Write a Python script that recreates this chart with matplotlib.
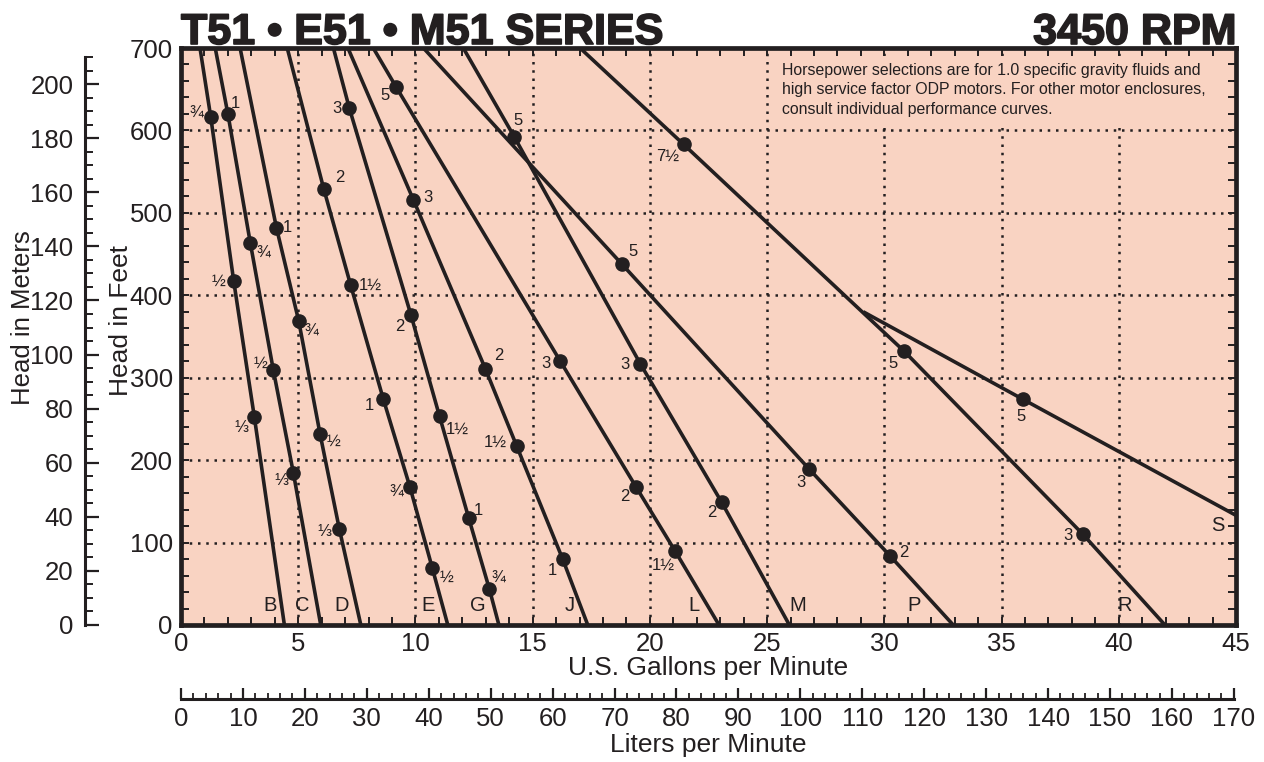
import matplotlib
matplotlib.use('Agg')
import matplotlib.pyplot as plt
from matplotlib.ticker import MultipleLocator
import matplotlib.patheffects as pe

plt.rcParams['font.family'] = ['Liberation Sans', 'DejaVu Sans']

# ---------------- data (gpm, feet of head, horsepower label at dot) ----------------
B_gpm = [0.81, 1.27, 2.25, 3.13, 4.41]
B_ft = [700, 616, 417, 252, 0]
B_hp = ['', '¾', '½', '⅓', '']

C_gpm = [1.46, 2.00, 2.96, 3.94, 4.79, 5.96]
C_ft = [700, 620, 463, 309, 185, 0]
C_hp = ['', '1', '¾', '½', '⅓', '']

D_gpm = [2.52, 4.07, 5.02, 5.93, 6.75, 7.67]
D_ft = [700, 482, 369, 232, 117, 0]
D_hp = ['', '1', '¾', '½', '⅓', '']

E_gpm = [4.53, 6.09, 7.24, 8.63, 9.77, 10.72, 11.38]
E_ft = [700, 529, 412, 274, 167, 69, 0]
E_hp = ['', '2', '1½', '1', '¾', '½', '']

G_gpm = [6.50, 7.18, 9.81, 11.03, 12.27, 13.15, 13.56]
G_ft = [700, 627, 376, 253, 130, 44, 0]
G_hp = ['', '3', '2', '1½', '1', '¾', '']

J_gpm = [7.12, 9.91, 12.98, 14.32, 16.28, 17.35]
J_ft = [700, 516, 311, 217, 80, 0]
J_hp = ['', '3', '2', '1½', '1', '']

L_gpm = [8.20, 9.17, 16.18, 19.42, 21.07, 22.95]
L_ft = [700, 653, 320, 167, 90, 0]
L_hp = ['', '5', '3', '2', '1½', '']

M_gpm = [12.04, 14.22, 19.59, 23.06, 25.95]
M_ft = [700, 592, 317, 149, 0]
M_hp = ['', '5', '3', '2', '']

P_gpm = [10.34, 18.80, 26.80, 30.24, 32.94]
P_ft = [700, 438, 189, 84, 0]
P_hp = ['', '5', '3', '2', '']

R_gpm = [17.02, 21.44, 30.85, 38.47, 41.97]
R_ft = [700, 583, 332, 110, 0]
R_hp = ['', '7½', '5', '3', '']

S_gpm = [29.10, 35.90, 45.0]
S_ft = [380, 274, 133]
S_hp = ['', '5', '']

curve_letters = ['B', 'C', 'D', 'E', 'G', 'J', 'L', 'M', 'P', 'R', 'S']
letter_gpm = [3.82, 5.19, 6.86, 10.55, 12.68, 16.56, 21.86, 26.30, 31.28, 40.27, 44.21]
letter_ft = [24, 24, 24, 24, 24, 24, 24, 24, 24, 24, 121]

gpm_ticks = [0, 5, 10, 15, 20, 25, 30, 35, 40, 45]
ft_ticks = [0, 100, 200, 300, 400, 500, 600, 700]
m_ticks = [0, 20, 40, 60, 80, 100, 120, 140, 160, 180, 200]
lpm_ticks = list(range(0, 171, 10))

note = ("Horsepower selections are for 1.0 specific gravity fluids and\n"
        "high service factor ODP motors. For other motor enclosures,\n"
        "consult individual performance curves.")

curves = [
    (B_gpm, B_ft, B_hp), (C_gpm, C_ft, C_hp), (D_gpm, D_ft, D_hp),
    (E_gpm, E_ft, E_hp), (G_gpm, G_ft, G_hp), (J_gpm, J_ft, J_hp),
    (L_gpm, L_ft, L_hp), (M_gpm, M_ft, M_hp), (P_gpm, P_ft, P_hp),
    (R_gpm, R_ft, R_hp), (S_gpm, S_ft, S_hp),
]

# ---------------- style: label offsets in pixels (dx right, dy down) ----------------
label_offsets = [
    [(-14, -4), (-15, 0), (-13, 10)],
    [(7, -10), (13, 10), (-13, -7), (-12, 8)],
    [(11, 0), (13, 10), (13, 8), (-15, 3)],
    [(16, -11), (20, 0), (-14, 6), (-14, 5), (14, 9)],
    [(-12, 0), (-11, 11), (18, 13), (10, -7), (9, -11)],
    [(15, -2), (14, -13), (-21, -4), (-10, 11)],
    [(-11, 9), (-14, 2), (-11, 9), (-12, 15)],
    [(4, -17), (-15, 1), (-10, 10)],
    [(11, -12), (-8, 13), (14, -3)],
    [(-16, 12), (-11, 12), (-15, 1)],
    [(-2, 17)],
]

INK = '#231F20'
BG = '#F9D3C2'
W, H = 1264, 762
fig = plt.figure(figsize=(W / 100, H / 100), dpi=100)


def rect(l, t, r, b):
    return [l / W, 1 - b / H, (r - l) / W, (b - t) / H]


ax = fig.add_axes(rect(181, 48, 1236, 625))
ax.set_facecolor(BG)
ax.set_xlim(0, 45)
ax.set_ylim(0, 700)
ax.set_xticks(gpm_ticks)
ax.set_yticks(ft_ticks)
ax.xaxis.set_minor_locator(MultipleLocator(1))
ax.yaxis.set_minor_locator(MultipleLocator(20))
ax.tick_params(which='both', direction='in', top=True, right=True,
               length=6, width=1.4, color=INK)
ax.tick_params(which='major', labelsize=18.5, labelcolor=INK)
ax.tick_params(axis='x', pad=5)
ax.tick_params(axis='y', pad=6)
ax.grid(True, which='major', color=INK, linestyle=(0, (1, 2.3)), linewidth=1.8)
ax.set_axisbelow(True)
for s in ax.spines.values():
    s.set_linewidth(3.4)
    s.set_color(INK)
    s.set_zorder(10)

for (g, f, hp), offs in zip(curves, label_offsets):
    ax.plot(g, f, color=INK, lw=2.6, solid_capstyle='butt', solid_joinstyle='round',
            zorder=4, clip_on=True)
    k = 0
    for x, y, t in zip(g, f, hp):
        if t == '':
            continue
        ax.plot([x], [y], 'o', color=INK, ms=9.5, zorder=5)
        dx, dy = offs[k]
        k += 1
        ax.annotate(t, (x, y), xytext=(dx * 0.72, -dy * 0.72), textcoords='offset points',
                    ha='center', va='center', fontsize=12, color=INK, zorder=6)

for t, x, y in zip(curve_letters, letter_gpm, letter_ft):
    ax.text(x, y, t, ha='center', va='center', fontsize=14.5, color=INK, zorder=6)

ax.text(781.7 / W, 1 - 63 / H, note, transform=fig.transFigure, ha='left', va='top',
        fontsize=11.4, color=INK, linespacing=1.36, zorder=3,
        bbox=dict(boxstyle='square,pad=0.45', facecolor=BG, edgecolor='none'))

# ---------------- meters axis ----------------
axm = fig.add_axes(rect(84.5, 48, 100, 625))
axm.set_ylim(0, 700 * 0.3048)
axm.patch.set_visible(False)
for s in ['top', 'right', 'bottom']:
    axm.spines[s].set_visible(False)
axm.spines['left'].set_bounds(0, 210)
axm.spines['left'].set_linewidth(2.2)
axm.spines['left'].set_color(INK)
axm.set_xticks([])
axm.set_yticks(m_ticks)
axm.yaxis.set_minor_locator(MultipleLocator(5))
axm.tick_params(axis='y', which='major', direction='in', length=10, width=1.6,
                labelsize=18.5, pad=8, color=INK, labelcolor=INK)
axm.tick_params(axis='y', which='minor', direction='in', length=5.5, width=1.4, color=INK)

# ---------------- liters axis ----------------
axl = fig.add_axes(rect(181, 660, 1236, 699))
axl.set_xlim(0, 45 * 3.78541)
axl.patch.set_visible(False)
for s in ['top', 'right', 'left']:
    axl.spines[s].set_visible(False)
axl.spines['bottom'].set_bounds(0, 170)
axl.spines['bottom'].set_linewidth(2.2)
axl.spines['bottom'].set_color(INK)
axl.set_yticks([])
axl.set_xticks(lpm_ticks)
axl.xaxis.set_minor_locator(MultipleLocator(2))
axl.tick_params(axis='x', which='major', direction='in', length=8, width=1.6,
                labelsize=18.5, pad=6, color=INK, labelcolor=INK)
axl.tick_params(axis='x', which='minor', direction='in', length=4, width=1.3, color=INK)

# ---------------- titles & axis labels ----------------
heavy = [pe.withStroke(linewidth=1.2, foreground=INK)]
fig.text(181 / W, 1 - 44 / H, 'T51 • E51 • M51 SERIES', ha='left', va='baseline',
         fontsize=31, fontweight='bold', color=INK, path_effects=heavy)
fig.text(1236 / W, 1 - 44 / H, '3450 RPM', ha='right', va='baseline',
         fontsize=31, fontweight='bold', color=INK, path_effects=heavy)
fig.text(708.5 / W, 1 - 668 / H, 'U.S. Gallons per Minute', ha='center', va='center',
         fontsize=19, color=INK)
fig.text(708.5 / W, 1 - 745 / H, 'Liters per Minute', ha='center', va='center',
         fontsize=19, color=INK)
fig.text(121 / W, 1 - 320 / H, 'Head in Feet', ha='center', va='center', rotation=90,
         fontsize=19, color=INK)
fig.text(23 / W, 1 - 318 / H, 'Head in Meters', ha='center', va='center', rotation=90,
         fontsize=18.5, color=INK)

fig.savefig('out.png', dpi=100, facecolor='white')
